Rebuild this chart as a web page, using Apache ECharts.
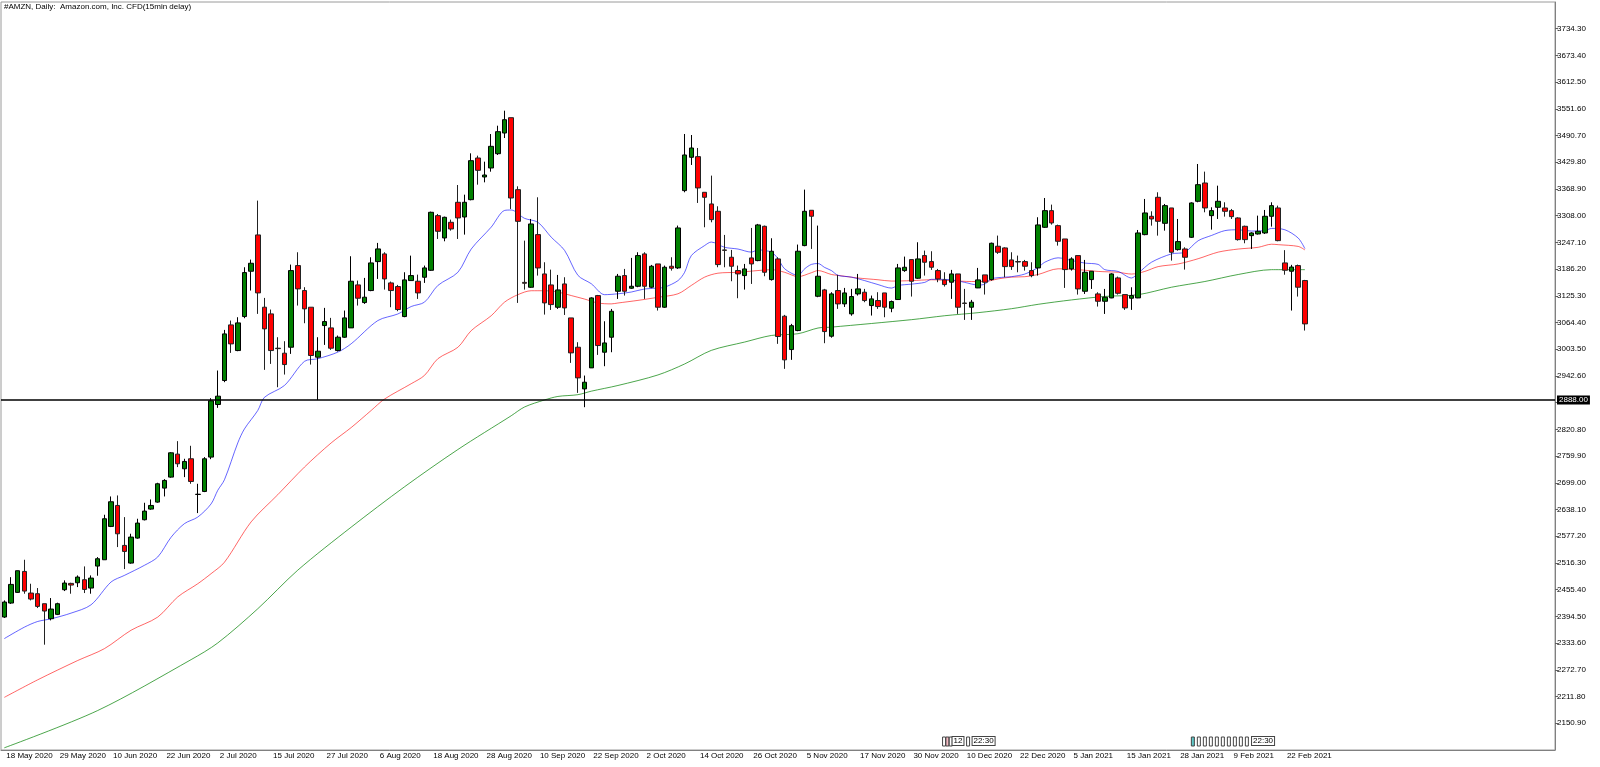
<!DOCTYPE html>
<html>
<head>
<meta charset="UTF-8">
<title>#AMZN, Daily</title>
<script src="https://cdn.jsdelivr.net/npm/echarts@6/dist/echarts.min.js"></script>
<style>
    html, body { margin: 0; padding: 0; background: #fff; }
    #chart { width: 1600px; height: 767px; }
</style>
</head>
<body>
<div id="chart"></div>
<script>
// daily bars, 18 May 2020 .. 25 Feb 2021
const opens = [
    2393.1, 2425.0, 2449.3, 2497.1, 2447.8, 2446.3, 2423.5, 2389.3, 2399.2, 2455.4,
    2469.8, 2471.3, 2478.2, 2459.2, 2509.3, 2523.7, 2599.7, 2647.5, 2556.4, 2516.1,
    2573.1, 2614.9, 2639.2, 2655.1, 2687.0, 2712.1, 2764.5, 2731.1, 2753.9, 2672.6,
    2679.4, 2757.7, 2877.6, 2932.3, 3059.1, 3000.6, 3078.1, 3181.4, 3264.2, 3099.4,
    3084.2, 3006.0, 2994.6, 3008.2, 3194.3, 3137.4, 3099.4, 2985.5, 3057.6, 3052.3,
    3000.6, 3031.0, 3052.3, 3150.3, 3110.0, 3137.4, 3203.4, 3220.9, 3154.8, 3146.5,
    3078.1, 3160.1, 3158.6, 3167.7, 3183.6, 3308.2, 3257.3, 3293.0, 3338.6, 3305.1,
    3344.6, 3439.6, 3396.3, 3416.8, 3449.4, 3496.5, 3531.5, 3367.4, 3156.0, 3144.9,
    3264.9, 3175.3, 3150.2, 3099.3, 3152.5, 3075.0, 3008.2, 2913.2, 2961.1, 3125.9,
    2996.8, 3031.0, 3135.8, 3171.5, 3142.7, 3147.2, 3220.9, 3145.0, 3198.1, 3099.4,
    3192.8, 3189.0, 3365.2, 3441.2, 3442.7, 3361.4, 3334.8, 3318.1, 3230.0, 3213.3,
    3183.0, 3171.5, 3211.8, 3205.7, 3283.9, 3162.4, 3209.5, 3078.9, 3002.9, 3046.2,
    3239.9, 3320.4, 3124.4, 3138.9, 3033.3, 3137.4, 3107.0, 3084.2, 3129.8, 3133.6,
    3103.2, 3114.6, 3132.0, 3097.1, 3116.9, 3182.9, 3208.0, 3165.5, 3217.1, 3203.4,
    3182.9, 3161.7, 3156.4, 3175.3, 3109.0, 3099.4, 3143.4, 3173.1, 3162.4, 3238.4,
    3234.6, 3207.2, 3203.4, 3203.4, 3182.9, 3189.0, 3281.6, 3319.6, 3285.4, 3255.0,
    3186.7, 3217.1, 3135.8, 3162.4, 3129.7, 3113.0, 3120.6, 3166.2, 3128.2, 3119.9,
    3120.6, 3264.9, 3306.7, 3350.0, 3290.7, 3325.7, 3230.7, 3232.2, 3258.8, 3340.9,
    3382.6, 3308.2, 3327.2, 3325.7, 3319.6, 3302.9, 3283.9, 3262.6, 3266.4, 3268.7,
    3306.7, 3325.7, 3200.4, 3181.4, 3194.3, 3160.2
];
const highs = [
    2431.0, 2484.0, 2499.0, 2523.7, 2469.0, 2459.2, 2423.5, 2436.4, 2425.8, 2476.7,
    2471.3, 2488.0, 2508.5, 2488.0, 2529.8, 2626.3, 2668.0, 2670.3, 2620.9, 2583.0,
    2617.2, 2653.6, 2661.2, 2699.2, 2707.5, 2769.0, 2794.1, 2753.9, 2783.5, 2696.9,
    2757.7, 2892.0, 2955.1, 3047.7, 3069.0, 3076.6, 3190.5, 3208.0, 3342.4, 3120.6,
    3094.1, 3031.0, 3021.9, 3196.6, 3224.7, 3145.0, 3099.4, 3031.0, 3097.9, 3075.1,
    3034.8, 3091.8, 3215.6, 3160.1, 3166.2, 3213.3, 3246.0, 3224.7, 3157.9, 3150.3,
    3179.1, 3217.0, 3173.7, 3194.3, 3317.3, 3312.0, 3305.9, 3299.1, 3378.0, 3356.0,
    3450.2, 3444.9, 3431.2, 3494.2, 3513.2, 3547.4, 3531.5, 3375.0, 3251.2, 3300.6,
    3350.0, 3201.9, 3185.1, 3173.0, 3167.7, 3075.0, 3019.6, 2943.6, 3122.1, 3127.4,
    3067.4, 3095.5, 3175.3, 3186.7, 3211.8, 3224.7, 3224.7, 3195.8, 3198.1, 3194.3,
    3213.3, 3285.5, 3494.3, 3492.0, 3462.4, 3361.4, 3399.4, 3329.5, 3264.2, 3230.0,
    3194.3, 3198.1, 3280.1, 3289.3, 3285.5, 3256.6, 3213.3, 3081.9, 3061.4, 3242.2,
    3367.5, 3320.4, 3285.5, 3141.2, 3133.6, 3173.1, 3143.4, 3141.2, 3175.3, 3141.2,
    3126.0, 3133.6, 3132.0, 3114.6, 3198.1, 3214.8, 3208.0, 3247.5, 3228.5, 3227.0,
    3186.7, 3179.1, 3184.5, 3175.3, 3141.2, 3116.1, 3189.0, 3173.1, 3246.7, 3262.7,
    3236.1, 3224.7, 3217.1, 3207.2, 3201.9, 3304.5, 3348.4, 3333.3, 3287.7, 3255.0,
    3213.3, 3217.1, 3207.2, 3181.4, 3133.5, 3141.1, 3176.8, 3169.2, 3128.2, 3144.9,
    3275.5, 3346.2, 3318.1, 3361.4, 3334.8, 3325.7, 3300.6, 3236.0, 3338.6, 3425.9,
    3408.5, 3327.2, 3376.5, 3338.6, 3323.4, 3304.4, 3285.4, 3270.2, 3308.2, 3321.1,
    3338.6, 3331.0, 3229.5, 3196.0, 3196.6, 3161.7
];
const lows = [
    2391.0, 2423.0, 2448.0, 2446.3, 2431.0, 2413.6, 2330.1, 2385.5, 2397.6, 2452.3,
    2446.3, 2461.4, 2447.8, 2446.3, 2487.3, 2523.7, 2598.2, 2552.6, 2502.5, 2514.6,
    2571.6, 2613.4, 2637.6, 2653.6, 2668.0, 2710.6, 2734.9, 2712.1, 2696.9, 2630.1,
    2677.9, 2753.0, 2870.0, 2928.5, 2995.3, 2999.1, 3074.3, 3137.4, 3084.2, 2956.6,
    2970.2, 2917.0, 2945.9, 2993.0, 3103.2, 3062.9, 2968.7, 2888.2, 3013.5, 3002.2,
    2998.4, 3029.5, 3052.3, 3103.2, 3107.0, 3135.9, 3163.9, 3139.6, 3099.4, 3090.3,
    3076.6, 3160.0, 3118.3, 3154.8, 3182.1, 3255.0, 3249.7, 3274.0, 3255.0, 3264.9,
    3343.1, 3378.8, 3384.1, 3408.4, 3446.4, 3485.1, 3323.4, 3109.2, 3139.6, 3143.4,
    3171.5, 3082.6, 3093.2, 3095.5, 3081.8, 2972.5, 2904.1, 2871.5, 2961.0, 2990.7,
    2964.9, 2996.8, 3118.3, 3126.0, 3141.2, 3145.0, 3118.4, 3142.7, 3091.8, 3097.9,
    3182.9, 3186.7, 3361.4, 3423.7, 3337.1, 3281.7, 3293.0, 3190.5, 3190.5, 3158.6,
    3119.9, 3139.6, 3152.5, 3204.2, 3170.0, 3160.1, 3015.9, 2958.9, 2979.4, 3044.7,
    3238.4, 3232.3, 3122.2, 3017.4, 3030.0, 3095.6, 3100.0, 3080.0, 3126.0, 3110.8,
    3080.4, 3095.6, 3076.6, 3088.0, 3116.9, 3180.0, 3123.7, 3164.0, 3171.5, 3184.5,
    3156.4, 3146.5, 3118.4, 3084.2, 3070.5, 3070.5, 3143.0, 3128.3, 3160.0, 3220.9,
    3167.7, 3184.5, 3179.1, 3182.9, 3167.7, 3171.5, 3280.1, 3287.7, 3239.8, 3143.4,
    3182.9, 3128.2, 3129.7, 3141.1, 3100.9, 3084.1, 3120.0, 3128.2, 3093.3, 3093.3,
    3120.0, 3263.4, 3285.4, 3262.6, 3274.0, 3205.7, 3228.5, 3185.2, 3257.3, 3338.6,
    3315.8, 3276.3, 3300.6, 3305.9, 3300.6, 3251.2, 3245.2, 3232.2, 3265.0, 3266.4,
    3283.1, 3249.7, 3173.5, 3091.8, 3123.7, 3046.2
];
const closes = [
    2427.3, 2467.5, 2498.7, 2452.3, 2434.1, 2417.4, 2406.8, 2411.3, 2423.5, 2470.6,
    2466.0, 2484.2, 2456.1, 2481.9, 2526.0, 2617.2, 2655.9, 2582.9, 2542.7, 2575.4,
    2607.3, 2634.6, 2647.5, 2696.9, 2704.5, 2767.5, 2742.5, 2747.8, 2702.2, 2673.0,
    2753.9, 2886.0, 2896.6, 3038.6, 3015.8, 3063.7, 3178.4, 3199.6, 3132.0, 3050.0,
    3000.6, 3005.0, 2968.7, 3182.9, 3141.2, 3095.6, 2989.3, 2999.1, 3066.7, 3006.0,
    3031.0, 3075.1, 3158.6, 3119.9, 3122.2, 3200.4, 3232.3, 3163.9, 3137.4, 3094.1,
    3161.7, 3171.5, 3132.0, 3189.0, 3315.8, 3272.5, 3304.4, 3277.8, 3302.9, 3338.6,
    3433.5, 3411.5, 3400.8, 3466.2, 3499.6, 3526.9, 3348.4, 3295.2, 3154.0, 3289.2,
    3188.9, 3109.2, 3105.4, 3138.8, 3097.8, 2995.3, 2938.3, 2928.4, 3120.6, 3012.0,
    3018.0, 3090.2, 3170.0, 3135.8, 3147.2, 3217.1, 3147.2, 3192.8, 3099.4, 3190.5,
    3188.2, 3280.1, 3446.5, 3462.4, 3371.3, 3350.0, 3299.1, 3196.6, 3229.0, 3192.8,
    3175.4, 3186.7, 3198.1, 3287.0, 3179.1, 3227.0, 3032.6, 2979.4, 3057.3, 3227.0,
    3318.1, 3306.8, 3170.0, 3043.9, 3129.8, 3107.0, 3132.0, 3123.7, 3141.2, 3114.6,
    3118.4, 3100.9, 3099.4, 3112.3, 3189.0, 3190.5, 3158.6, 3209.5, 3201.9, 3190.5,
    3163.9, 3151.0, 3175.3, 3099.4, 3108.0, 3110.8, 3161.7, 3156.4, 3245.2, 3224.7,
    3192.0, 3192.0, 3202.6, 3192.8, 3171.5, 3287.0, 3319.6, 3291.5, 3249.7, 3185.2,
    3209.5, 3141.1, 3179.1, 3181.4, 3113.0, 3122.1, 3175.3, 3131.2, 3097.8, 3125.9,
    3268.7, 3314.3, 3300.6, 3295.3, 3331.0, 3224.7, 3249.0, 3213.3, 3337.1, 3378.8,
    3325.7, 3319.6, 3340.9, 3318.1, 3305.9, 3253.5, 3253.5, 3268.7, 3272.5, 3306.7,
    3331.0, 3251.2, 3183.7, 3191.0, 3145.0, 3061.4
];

// moving averages, [bar index, value] read at intervals along each line
const maFast = [
    [0, 2344], [3, 2370], [5, 2383], [7, 2389], [10, 2402], [13, 2421], [16, 2473],
    [18, 2488], [21, 2511], [23, 2530], [25, 2575], [27, 2606], [29, 2621], [31, 2651],
    [32, 2682], [33, 2706], [35, 2790], [36, 2822], [38, 2864], [39, 2894], [42, 2921],
    [45, 2976], [47, 2982], [50, 2997], [52, 3016], [56, 3069], [59, 3084], [61, 3101],
    [63, 3111], [65, 3149], [68, 3179], [70, 3232], [73, 3282], [75, 3320], [76, 3321],
    [78, 3302], [80, 3293], [82, 3259], [84, 3229], [86, 3172], [88, 3153], [90, 3128],
    [92, 3130], [94, 3134], [96, 3141], [98, 3143], [99, 3145], [101, 3160], [102, 3179],
    [103, 3217], [105, 3240], [106, 3248], [108, 3236], [110, 3232], [112, 3225],
    [113, 3230], [115, 3225], [116, 3210], [117, 3187], [119, 3172], [120, 3187],
    [121, 3197], [122, 3199], [123, 3190], [124, 3183], [125, 3172], [127, 3168],
    [129, 3160], [131, 3151], [133, 3143], [134, 3149], [136, 3152], [138, 3156],
    [139, 3163], [140, 3163], [142, 3162], [144, 3156], [146, 3150], [147, 3152],
    [148, 3164], [150, 3168], [151, 3169], [153, 3175], [155, 3190], [156, 3202],
    [158, 3212], [160, 3206], [162, 3200], [164, 3197], [165, 3185], [167, 3181],
    [169, 3166], [170, 3177], [172, 3202], [175, 3221], [177, 3225], [179, 3251],
    [181, 3263], [183, 3274], [185, 3276], [187, 3273], [189, 3274], [190, 3279],
    [192, 3276], [194, 3257], [195, 3233]
];
const maMid = [
    [0, 2210], [5, 2250], [11, 2294], [15, 2321], [19, 2363], [23, 2393], [26, 2439],
    [29, 2469], [31, 2492], [33, 2518], [37, 2610], [41, 2672], [45, 2735], [49, 2790],
    [52, 2825], [55, 2864], [57, 2890], [61, 2925], [63, 2944], [65, 2982], [68, 3008],
    [70, 3046], [73, 3080], [75, 3111], [77, 3128], [79, 3137], [81, 3137], [83, 3134],
    [85, 3126], [87, 3118], [89, 3109], [91, 3107], [92, 3109], [95, 3115], [98, 3122],
    [101, 3130], [103, 3149], [105, 3168], [107, 3177], [110, 3179], [113, 3183],
    [115, 3185], [117, 3179], [119, 3169], [121, 3178], [122, 3183], [124, 3174],
    [125, 3172], [128, 3166], [131, 3162], [133, 3159], [136, 3160], [139, 3162],
    [142, 3160], [145, 3158], [147, 3158], [149, 3164], [151, 3168], [153, 3169],
    [155, 3174], [158, 3187], [161, 3185], [164, 3181], [167, 3179], [169, 3175],
    [171, 3181], [173, 3192], [176, 3198], [179, 3210], [182, 3225], [185, 3232],
    [188, 3236], [190, 3243], [191, 3242], [194, 3238], [195, 3230]
];
const maSlow = [
    [0, 2095], [14, 2180], [28, 2296], [32, 2334], [38, 2412], [44, 2500], [52, 2598],
    [60, 2690], [68, 2775], [76, 2852], [78, 2872], [81, 2888], [83, 2896], [86, 2900],
    [88, 2908], [92, 2921], [98, 2945], [102, 2970], [106, 3001], [111, 3020],
    [115, 3035], [119, 3039], [122, 3052], [124, 3054], [136, 3071], [141, 3080],
    [146, 3087], [151, 3096], [155, 3106], [160, 3116], [165, 3124], [170, 3128],
    [175, 3145], [180, 3158], [185, 3174], [190, 3185], [195, 3185]
];

const levelPrice = 2888.00;

// time axis labels, one every 8 bars
const tickLabels = [
    '18 May 2020', '29 May 2020', '10 Jun 2020', '22 Jun 2020', '2 Jul 2020',
    '15 Jul 2020', '27 Jul 2020', '6 Aug 2020', '18 Aug 2020', '28 Aug 2020',
    '10 Sep 2020', '22 Sep 2020', '2 Oct 2020', '14 Oct 2020', '26 Oct 2020',
    '5 Nov 2020', '17 Nov 2020', '30 Nov 2020', '10 Dec 2020', '22 Dec 2020',
    '5 Jan 2021', '15 Jan 2021', '28 Jan 2021', '9 Feb 2021', '22 Feb 2021'
];
const tickStep = 8;

const priceLabels = [
    2150.9, 2211.8, 2272.7, 2333.6, 2394.5, 2455.4, 2516.3, 2577.2, 2638.1, 2699.0,
    2759.9, 2820.8, 2942.6, 3003.5, 3064.4, 3125.3, 3186.2, 3247.1, 3308.0, 3368.9,
    3429.8, 3490.7, 3551.6, 3612.5, 3673.4, 3734.3
];
const priceTicks = priceLabels.concat([2881.7]);

// little event flags along the bottom (position on the bar axis, text)
const eventBars = [140.9, 141.4, 141.9, 142.4, 144.5, 145.4,
    178.2, 179.1, 180.0, 180.9, 181.8, 182.7, 183.6, 184.5, 185.4, 186.3, 187.3];
const eventTexts = ['', '', '', '12', '', '22:30',
    '', '', '', '', '', '', '', '', '', '', '22:30'];
const eventFills = ['#fff', '#f4b8c0', '#fff', '#fff', '#fff', '#fff',
    '#5fc8c8', '#fff', '#fff', '#fff', '#fff', '#fff', '#fff', '#fff', '#fff', '#fff', '#fff'];

const slots = 233;
const categories = [];
for (let i = 0; i < slots; i++) {
    categories.push(i);
}

const candles = opens.map((o, i) => [o, closes[i], lows[i], highs[i]]);

const font = 'Liberation Sans';

const chart = echarts.init(document.getElementById('chart'), null, { renderer: 'canvas' });

chart.setOption({
    animation: false,
    backgroundColor: '#fff',
    title: {
        text: '#AMZN, Daily:  Amazon.com, Inc. CFD(15min delay)',
        left: 4,
        top: 3,
        padding: 0,
        textStyle: { fontFamily: font, fontSize: 8, fontWeight: 'normal', color: '#000' }
    },
    grid: {
        left: 1,
        top: 2,
        width: 1554,
        height: 748,
        outerBoundsMode: 'none',
        containLabel: false,
        show: true,
        borderColor: '#9a9a9a',
        borderWidth: 1,
        backgroundColor: '#fff'
    },
    xAxis: {
        type: 'category',
        data: categories,
        boundaryGap: true,
        axisLine: { lineStyle: { color: '#808080' } },
        axisTick: {
            alignWithLabel: true,
            length: 5,
            lineStyle: { color: '#606060' },
            interval: (i) => i % tickStep === 0 && i / tickStep < tickLabels.length
        },
        axisLabel: {
            interval: (i) => i % tickStep === 0 && i / tickStep < tickLabels.length,
            formatter: (v, i) => tickLabels[i / tickStep] || '',
            align: 'left',
            padding: [0, 0, 0, 2],
            margin: 2,
            fontFamily: font,
            fontSize: 8,
            color: '#000'
        },
        splitLine: { show: false }
    },
    yAxis: {
        type: 'value',
        position: 'right',
        min: 2090,
        max: 3795.2,
        scale: true,
        splitLine: { show: false },
        axisLine: { show: true, lineStyle: { color: '#808080' } },
        axisTick: {
            show: true,
            length: 3,
            customValues: priceTicks,
            lineStyle: { color: '#606060' }
        },
        axisLabel: {
            customValues: priceLabels,
            formatter: (v) => v.toFixed(2),
            margin: 2,
            fontFamily: font,
            fontSize: 8,
            color: '#000'
        }
    },
    series: [
        {
            name: 'MA slow',
            type: 'line',
            data: maSlow,
            showSymbol: false,
            smooth: 0.3,
            lineStyle: { color: '#008000', width: 1, opacity: 0.7 },
            z: 1
        },
        {
            name: 'MA mid',
            type: 'line',
            data: maMid,
            showSymbol: false,
            smooth: 0.3,
            lineStyle: { color: '#ff0000', width: 1, opacity: 0.6 },
            z: 1
        },
        {
            name: 'MA fast',
            type: 'line',
            data: maFast,
            showSymbol: false,
            smooth: 0.3,
            lineStyle: { color: '#0000ff', width: 1, opacity: 0.6 },
            z: 1
        },
        {
            name: '#AMZN',
            type: 'candlestick',
            data: candles,
            barWidth: 5,
            itemStyle: {
                color: '#008000',
                color0: '#ff0000',
                borderColor: '#000',
                borderColor0: '#222',
                borderWidth: 1
            },
            z: 3,
            markLine: {
                silent: true,
                symbol: 'none',
                z: 10,
                lineStyle: { color: '#000', width: 1.5, type: 'solid' },
                label: {
                    position: 'end',
                    distance: 2,
                    formatter: () => levelPrice.toFixed(2),
                    backgroundColor: '#000',
                    color: '#fff',
                    padding: [1, 2, 0, 2],
                    fontFamily: font,
                    fontSize: 8
                },
                data: [{ yAxis: levelPrice }]
            }
        },
        {
            name: 'events',
            type: 'custom',
            data: eventBars.map((b, i) => [Math.floor(b), i]),
            z: 5,
            renderItem: (params, api) => {
                const i = api.value(1);
                const step = api.size([1, 0])[0];
                const p = api.coord([api.value(0), 2090]);
                const x = p[0] + (eventBars[i] - Math.floor(eventBars[i])) * step;
                const txt = eventTexts[i];
                const y = p[1] - 13;
                if (!txt) {
                    return {
                        type: 'rect',
                        shape: { x: x - 1.5, y: y, width: 3, height: 9 },
                        style: { fill: eventFills[i], stroke: '#444', lineWidth: 1 }
                    };
                }
                return {
                    type: 'text',
                    x: x - 1.5,
                    y: y,
                    style: {
                        text: txt,
                        fontFamily: font,
                        fontSize: 8,
                        fill: '#000',
                        backgroundColor: eventFills[i],
                        borderColor: '#444',
                        borderWidth: 1,
                        padding: [0, 1, 0, 1]
                    }
                };
            }
        }
    ]
});
</script>
</body>
</html>
